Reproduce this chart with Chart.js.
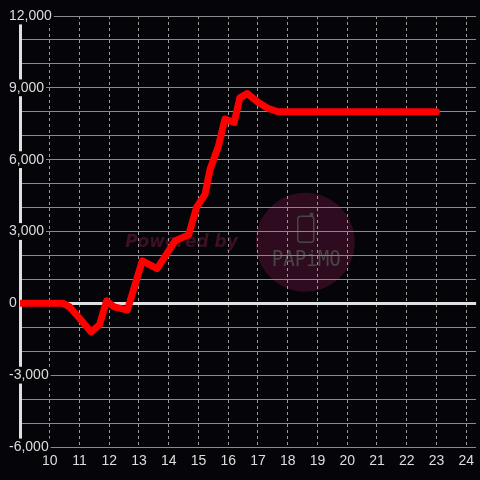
<!DOCTYPE html>
<html>
<head>
<meta charset="utf-8">
<script src="https://cdn.jsdelivr.net/npm/chart.js@4"></script>
<style>
  html, body { margin: 0; padding: 0; background: #050408; }
  #wrap { width: 480px; height: 480px; }
</style>
</head>
<body>
<div id="wrap"><canvas id="profitChart"></canvas></div>
<script>
// hour of day -> running balance
const hours  = [9, 10.45, 10.67, 11.05, 11.39, 11.67, 11.91, 12.17, 12.61, 13.11, 13.61, 14.22, 14.67, 14.94, 15.22, 15.39, 15.67, 15.89, 16.2, 16.39, 16.64, 17.0, 17.33, 17.67, 23.0];
const profit = [0, 0, -150, -700, -1200, -900, 100, -150, -280, 1770, 1450, 2620, 2860, 4020, 4550, 5600, 6560, 7700, 7550, 8580, 8760, 8400, 8150, 8000, 8000];

const xTicks = [10, 11, 12, 13, 14, 15, 16, 17, 18, 19, 20, 21, 22, 23, 24];
const yTicks = [-6000, -5000, -4000, -3000, -2000, -1000, 0, 1000, 2000, 3000, 4000, 5000, 6000, 7000, 8000, 9000, 10000, 11000, 12000];
const yLabelStep = 3000;

const bg = '#050408';

// faint "Powered by PAPIMO" stamp behind the grid
const watermark = {
    id: 'watermark',
    beforeDraw(chart) {
        const ctx = chart.ctx;
        const a = chart.chartArea;
        const cx = a.left + (a.right - a.left) * 0.6254;
        const cy = a.top + (a.bottom - a.top) * 0.525;
        const r = 49.5;
        ctx.save();
        ctx.fillStyle = '#2e0b1e';
        ctx.beginPath();
        ctx.arc(cx, cy, r, 0, Math.PI * 2);
        ctx.fill();

        ctx.fillStyle = '#3d1026';
        ctx.font = 'italic bold 17px "DejaVu Sans"';
        ctx.textAlign = 'right';
        ctx.textBaseline = 'alphabetic';
        ctx.fillText('Powered by', cx - r - 18, cy + 5);

        // phone icon
        ctx.strokeStyle = '#464646';
        ctx.lineWidth = 1.5;
        ctx.beginPath();
        ctx.roundRect(cx - 7.5, cy - 26, 16, 26, 3);
        ctx.stroke();
        ctx.fillStyle = '#464646';
        ctx.fillRect(cx + 4.5, cy - 29.5, 3.5, 4);

        ctx.textAlign = 'center';
        ctx.translate(cx + 1, cy + 24);
        ctx.scale(1.03, 1.18);
        ctx.font = '18.6px "DejaVu Sans Mono"';
        ctx.fillText('PAPiMO', 0, 0);
        ctx.restore();
    }
};

const ctx = document.getElementById('profitChart').getContext('2d');
const chart = new Chart(ctx, {
    type: 'line',
    data: {
        datasets: [{
            data: hours.map((h, i) => ({ x: h, y: profit[i] })),
            borderColor: '#ff0000',
            borderWidth: 7,
            borderJoinStyle: 'round',
            borderCapStyle: 'round',
            pointRadius: 0,
            tension: 0
        }]
    },
    options: {
        responsive: true,
        maintainAspectRatio: false,
        animation: false,
        layout: { padding: { left: 5, top: 16, right: 0, bottom: 0 } },
        plugins: { legend: { display: false }, tooltip: { enabled: false } },
        scales: {
            x: {
                type: 'linear',
                min: 9,
                max: 24.333,
                afterBuildTicks: s => { s.ticks = xTicks.map(v => ({ value: v })); },
                afterFit: s => { s.height = 33; },
                border: { display: false, dash: [3, 3] },
                grid: { color: '#9a9a9a', lineWidth: 1, drawTicks: false },
                ticks: {
                    autoSkip: false,
                    maxRotation: 0,
                    padding: 6,
                    color: '#ddd',
                    font: { family: '"Liberation Sans", Arial, sans-serif', size: 14 }
                }
            },
            y: {
                min: -6000,
                max: 12000,
                afterBuildTicks: s => { s.ticks = yTicks.map(v => ({ value: v })); },
                afterFit: s => { s.width = 15; },
                border: { display: true, color: '#e0e0e0', width: 3, z: 0 },
                grid: {
                    drawTicks: false,
                    color: c => (c.tick && c.tick.value === 0 ? '#e0e0e0' : '#8a8a8a'),
                    lineWidth: c => (c.tick && c.tick.value === 0 ? 3 : 1)
                },
                ticks: {
                    autoSkip: false,
                    mirror: true,
                    padding: -11,
                    color: '#ddd',
                    font: { family: '"Liberation Sans", Arial, sans-serif', size: 14 },
                    showLabelBackdrop: true,
                    backdropPadding: { left: 2, right: 2, top: 0, bottom: 0 },
                    backdropColor: c => (c.tick && c.tick.value % yLabelStep === 0 ? bg : 'rgba(0,0,0,0)'),
                    callback: v => (v % yLabelStep === 0 ? v.toLocaleString('en-US') : '')
                }
            }
        }
    },
    plugins: [watermark]
});
</script>
</body>
</html>
